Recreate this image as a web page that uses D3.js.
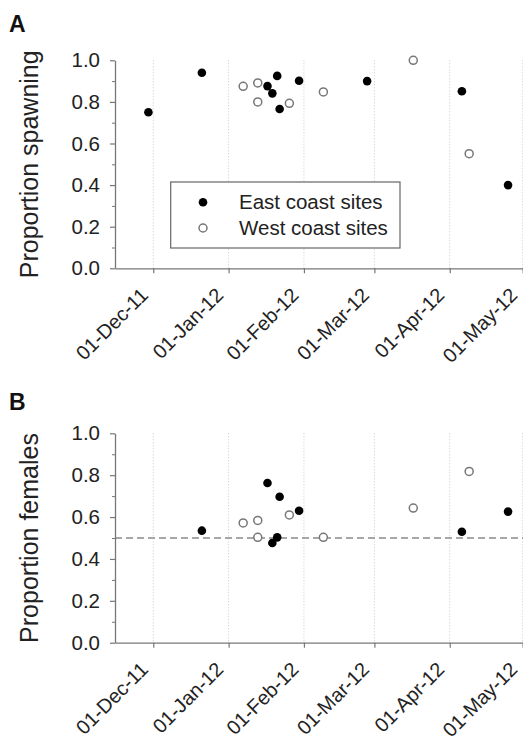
<!DOCTYPE html>
<html>
<head>
<meta charset="utf-8">
<script src="https://cdn.jsdelivr.net/npm/d3@7"></script>
<style>
  html, body { margin: 0; padding: 0; background: #fff; }
  svg { display: block; font-family: "Liberation Sans", Arial, sans-serif; }
</style>
</head>
<body>
<svg id="chart" width="523" height="740"></svg>
<script>
// ---- data ----
const monthTicks = ["2011-12-01", "2012-01-01", "2012-02-01", "2012-03-01", "2012-04-01", "2012-05-01"];
const yTicks = [0, 0.2, 0.4, 0.6, 0.8, 1.0];
const yMinorTicks = [0.1, 0.3, 0.5, 0.7, 0.9];

const spawnEastDates = ["2011-11-29", "2011-12-21", "2012-01-17", "2012-01-19", "2012-01-21", "2012-01-22", "2012-01-30", "2012-02-27", "2012-04-06", "2012-04-25"];
const spawnEastValues = [0.75, 0.94, 0.876, 0.841, 0.925, 0.766, 0.902, 0.90, 0.851, 0.40];
const spawnWestDates = ["2012-01-07", "2012-01-13", "2012-01-13", "2012-01-26", "2012-02-09", "2012-03-17", "2012-04-09"];
const spawnWestValues = [0.875, 0.891, 0.80, 0.793, 0.848, 1.0, 0.551];

const femEastDates = ["2011-12-21", "2012-01-17", "2012-01-22", "2012-01-19", "2012-01-21", "2012-01-30", "2012-04-06", "2012-04-25"];
const femEastValues = [0.535, 0.763, 0.697, 0.476, 0.503, 0.63, 0.53, 0.626];
const femWestDates = ["2012-01-07", "2012-01-13", "2012-01-13", "2012-01-26", "2012-02-09", "2012-03-17", "2012-04-09"];
const femWestValues = [0.572, 0.584, 0.503, 0.61, 0.503, 0.643, 0.818];

const refLine = 0.5;
const legendLabels = ["East coast sites", "West coast sites"];

// ---- setup ----
const parse = d3.timeParse("%Y-%m-%d");
const fmtTick = d3.timeFormat("%d-%b-%y");
const svg = d3.select("#chart");

const x = d3.scaleTime()
  .domain([new Date(2011, 10, 15, 6), new Date(2012, 4, 2)])
  .range([115, 115 + 168.75 * 2.43]);

function panel(opts) {
  const y = d3.scaleLinear().domain([0, 1]).range([opts.bottom, opts.top]);
  const g = svg.append("g");

  // gridlines
  g.selectAll("line.grid").data(monthTicks.map(parse)).enter().append("line")
    .attr("x1", d => x(d)).attr("x2", d => x(d))
    .attr("y1", y(1)).attr("y2", y(0))
    .attr("stroke", "#c8c8c8").attr("stroke-width", 1)
    .attr("stroke-dasharray", "1,2");

  // reference line
  if (opts.ref !== undefined) {
    g.append("line")
      .attr("x1", x.range()[0]).attr("x2", 523)
      .attr("y1", y(opts.ref)).attr("y2", y(opts.ref))
      .attr("stroke", "#8a8a8a").attr("stroke-width", 1.3)
      .attr("stroke-dasharray", "7,4");
  }

  // y minor ticks
  g.append("g").attr("transform", `translate(${x.range()[0]},0)`)
    .call(d3.axisLeft(y).tickValues(yMinorTicks).tickSize(3).tickFormat(""))
    .call(a => a.select(".domain").remove())
    .call(a => a.selectAll("line").attr("stroke", "#777").attr("stroke-width", 1));

  // y axis
  g.append("g").attr("transform", `translate(${x.range()[0]},0)`)
    .call(d3.axisLeft(y).tickValues(yTicks).tickSize(5).tickSizeOuter(0).tickPadding(10).tickFormat(d3.format(".1f")))
    .call(a => a.select(".domain").attr("stroke", "#777").attr("stroke-width", 1.3))
    .call(a => a.selectAll("line").attr("stroke", "#777").attr("stroke-width", 1.2))
    .call(a => a.selectAll("text").attr("font-size", 20.5).attr("fill", "#222")
      .attr("font-family", "Liberation Sans, Arial, sans-serif"));

  // x axis
  const xa = g.append("g").attr("transform", `translate(0,${y(0)})`)
    .call(d3.axisBottom(x).tickValues(monthTicks.map(parse)).tickSize(5).tickSizeOuter(0).tickFormat(fmtTick))
    .call(a => a.select(".domain").attr("stroke", "#777").attr("stroke-width", 1.3))
    .call(a => a.selectAll("line").attr("stroke", "#777").attr("stroke-width", 1.2));
  xa.selectAll("text")
    .attr("font-size", 20).attr("fill", "#222")
    .attr("font-family", "Liberation Sans, Arial, sans-serif")
    .attr("text-anchor", "end")
    .attr("y", 0).attr("dy", 0)
    .attr("transform", "translate(-4.5,28) rotate(-45)");

  // y title
  g.append("text")
    .attr("transform", `translate(38,${(y(0) + y(1)) / 2}) rotate(-90)`)
    .attr("text-anchor", "middle")
    .attr("font-size", 25).attr("fill", "#222")
    .text(opts.title);

  // panel letter
  g.append("text").attr("x", 9).attr("y", opts.letterY)
    .attr("font-size", 23).attr("font-weight", "bold").attr("fill", "#111")
    .text(opts.letter);

  // points
  g.selectAll("circle.w").data(opts.wDates.map((d, i) => [parse(d), opts.wVals[i]])).enter()
    .append("circle")
    .attr("cx", d => x(d[0])).attr("cy", d => y(d[1])).attr("r", 4)
    .attr("fill", "#fff").attr("stroke", "#777").attr("stroke-width", 1.5);
  g.selectAll("circle.e").data(opts.eDates.map((d, i) => [parse(d), opts.eVals[i]])).enter()
    .append("circle")
    .attr("cx", d => x(d[0])).attr("cy", d => y(d[1])).attr("r", 4.3)
    .attr("fill", "#000");
  return y;
}

panel({ top: 60.3, bottom: 268.3, title: "Proportion spawning", letter: "A", letterY: 31.7,
  eDates: spawnEastDates, eVals: spawnEastValues, wDates: spawnWestDates, wVals: spawnWestValues });
panel({ top: 433.3, bottom: 642.7, title: "Proportion females", letter: "B", letterY: 410,
  eDates: femEastDates, eVals: femEastValues, wDates: femWestDates, wVals: femWestValues, ref: refLine });

// legend (panel A)
const lg = svg.append("g");
lg.append("rect").attr("x", 170.7).attr("y", 182).attr("width", 229.3).attr("height", 66)
  .attr("fill", "#fff").attr("stroke", "#666").attr("stroke-width", 1.2);
lg.append("circle").attr("cx", 203).attr("cy", 202.3).attr("r", 4.3).attr("fill", "#000");
lg.append("circle").attr("cx", 203).attr("cy", 228).attr("r", 4).attr("fill", "#fff")
  .attr("stroke", "#777").attr("stroke-width", 1.5);
lg.append("text").attr("x", 239).attr("y", 209).attr("font-size", 20.5).attr("fill", "#222").text(legendLabels[0]);
lg.append("text").attr("x", 239).attr("y", 235).attr("font-size", 20.5).attr("fill", "#222").text(legendLabels[1]);
</script>
</body>
</html>
